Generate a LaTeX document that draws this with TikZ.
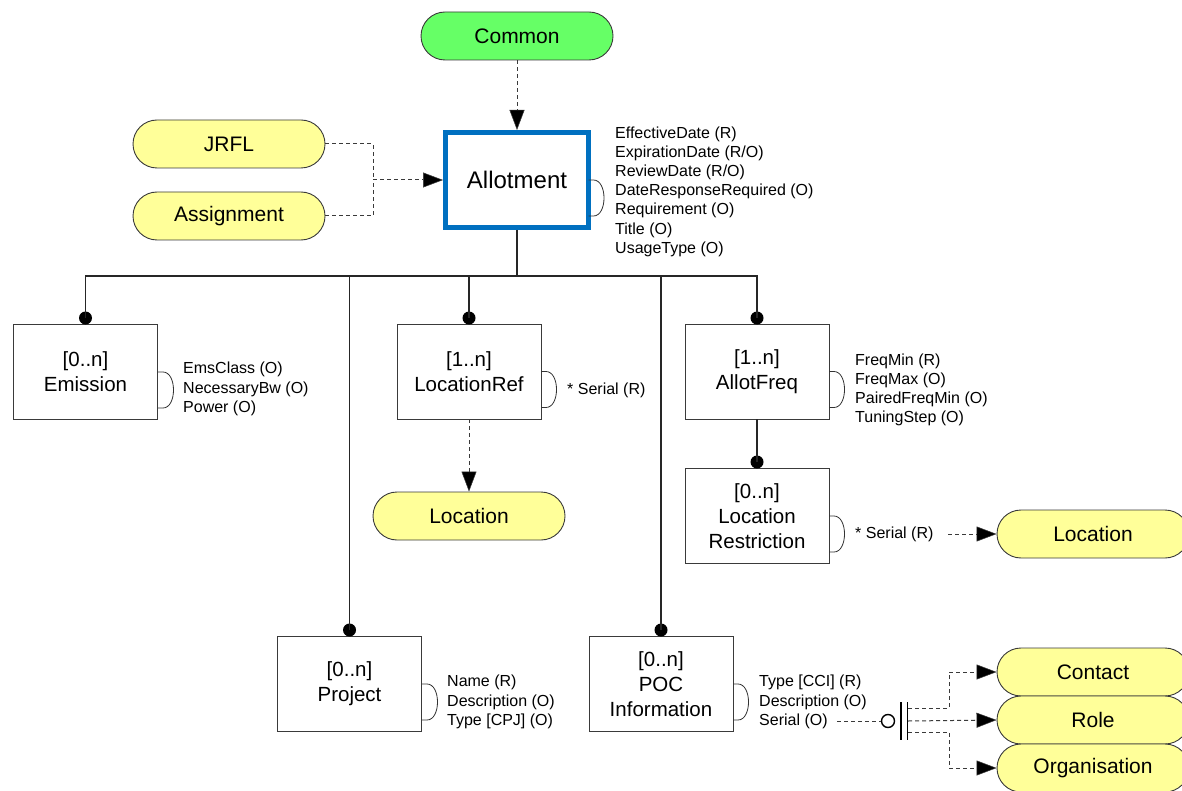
\documentclass[tikz,border=0pt]{standalone}
\usepackage{fontspec}
\setmainfont{Liberation Sans}
\usetikzlibrary{arrows.meta,calc}
\definecolor{pillyellow}{HTML}{FFFF99}
\definecolor{pillgreen}{HTML}{66FF66}
\definecolor{allotblue}{HTML}{0070C0}
\definecolor{linegray}{HTML}{3A3A3A}
\tikzset{
  pill/.style={draw=linegray, line width=0.9pt, rounded corners=24pt, minimum width=192pt, minimum height=48pt, inner sep=0pt, font=\fontsize{21}{25}\selectfont},
  ybox/.style={pill, fill=pillyellow},
  gbox/.style={pill, fill=pillgreen},
  entbox/.style={draw=linegray, line width=0.9pt, minimum width=144pt, minimum height=95pt, inner sep=0pt, align=center, font=\fontsize{20.5}{25}\selectfont},
  attr/.style={anchor=west, align=left, inner sep=0pt, font=\fontsize{16}{19.2}\selectfont},
  dashline/.style={draw=linegray, line width=1pt, dash pattern=on 4pt off 3pt},
  darrow/.style={dashline, -{Triangle[length=20pt,width=15pt,fill=black,line width=0.5pt]}},
  bus/.style={draw=black!85, line width=1.3pt},
  dotend/.style={fill=black, circle, inner sep=0pt, minimum size=13pt},
  brk/.style={draw=black!80, line width=0.8pt}
}
\newcommand\attrbrk[2]{\draw[brk] (#1,#2) -- (#1+5,#2) .. controls (#1+19,#2) and (#1+19,#2+36) .. (#1+5,#2+36) -- (#1,#2+36);}
\begin{document}
\begin{tikzpicture}[x=1pt,y=-1pt]
\useasboundingbox (0,0) rectangle (1182,791);
\begin{scope}
\clip (0,0) rectangle (1182,791);
% top nodes
\node[gbox] (common) at (517,36) {Common};
\node[ybox] (jrfl) at (229,144) {JRFL};
\node[ybox] (assign) at (229,216) {Assignment};
\node[draw=allotblue, line width=5pt, minimum width=143pt, minimum height=95pt, inner sep=0pt, font=\fontsize{24}{28}\selectfont] (allot) at (517,180) {Allotment};

\draw[darrow] (common) -- (allot);
\coordinate (jmid) at (373,180);
\draw[dashline] (jrfl.east) -| (jmid);
\draw[dashline] (assign.east) -| (jmid);
\draw[darrow] (jmid) -- (allot.west);

\attrbrk{588.5}{180}
\node[attr] (allotattr) at (615,191.5) {EffectiveDate (R)\\ExpirationDate (R/O)\\ReviewDate (R/O)\\DateResponseRequired (O)\\Requirement (O)\\Title (O)\\UsageType (O)};

% entity boxes
\node[entbox] (emis) at (85.5,372) {[0..n]\\Emission};
\node[entbox] (locref) at (469,371.5) {[1..n]\\LocationRef};
\node[entbox] (allotf) at (757,371.5) {[1..n]\\AllotFreq};
\node[entbox] (locres) at (757,516) {[0..n]\\Location\\Restriction};
\node[entbox] (proj) at (349.5,684) {[0..n]\\Project};
\node[entbox] (poc) at (661,684) {[0..n]\\POC\\Information};

% dots
\node[dotend] (demis) at (85.5,318) {};
\node[dotend] (dlocref) at (469,318) {};
\node[dotend] (dallotf) at (757,318) {};
\node[dotend] (dlocres) at (757,462) {};
\node[dotend] (dproj) at (349.5,630) {};
\node[dotend] (dpoc) at (661,630) {};

% bus
\coordinate (bus) at (517,276);
\draw[bus] (allot.south) -- (bus);
\draw[bus] (demis.center) |- (dallotf.center |- bus) -- (dallotf.center);
\draw[bus] (dlocref.center) -- (dlocref.center |- bus);
\draw[bus] (dproj.center) -- (dproj.center |- bus);
\draw[bus] (dpoc.center) -- (dpoc.center |- bus);
\draw[bus] (allotf.south) -- (dlocres.center);

% attributes
\attrbrk{158}{372}
\node[attr] (emisattr) at (183,389) {EmsClass (O)\\NecessaryBw (O)\\Power (O)};
\attrbrk{541}{371.5}
\node[attr] (locrefattr) at (567,390) {* Serial (R)};
\attrbrk{829}{371.5}
\node[attr] (allotfattr) at (855,390) {FreqMin (R)\\FreqMax (O)\\PairedFreqMin (O)\\TuningStep (O)};
\attrbrk{829}{516}
\node[attr] (locresattr) at (855,534) {* Serial (R)};
\attrbrk{422}{684}
\node[attr] (projattr) at (447,702) {Name (R)\\Description (O)\\Type [CPJ] (O)};
\attrbrk{733}{684}
\node[attr] (pocattr) at (759,702) {Type [CCI] (R)\\Description (O)\\Serial (O)};

% locations
\node[ybox] (loc1) at (469,516) {Location};
\draw[darrow] (locref.south) -- (loc1.north);
\node[ybox] (loc2) at (1093,534) {Location};
\coordinate (ser2) at (948,534);
\draw[darrow] (ser2) -- (loc2.west);

% POC links
\node[ybox] (contact) at (1093,672) {Contact};
\node[ybox] (role) at (1093,720) {Role};
\node[ybox] (org) at (1093,768) {Organisation};
\coordinate (ser3) at (837,721);
\node[draw=black, line width=1.4pt, circle, minimum size=13pt, inner sep=0pt] (circ) at (888,721) {};
\draw[dashline] (ser3) -- (circ.west);
\coordinate (b1t) at (901,702); \coordinate (b1b) at (901,740);
\coordinate (b2t) at (907.5,702); \coordinate (b2b) at (907.5,740);
\draw[black, line width=1.8pt] (b1t) -- (b1b);
\draw[black, line width=1.8pt] (b2t) -- (b2b);
\coordinate (fa) at (908,708);
\coordinate (fb) at (908,721);
\coordinate (fc) at (908,732);
\draw[dashline] (fa) -- (949,708) -- (949,672);
\draw[darrow] (949,672) -- (contact.west);
\draw[darrow] (fb) -- (role.west);
\draw[dashline] (fc) -- (949,732) -- (949,768);
\draw[darrow] (949,768) -- (org.west);
\end{scope}
\end{tikzpicture}
\end{document}
